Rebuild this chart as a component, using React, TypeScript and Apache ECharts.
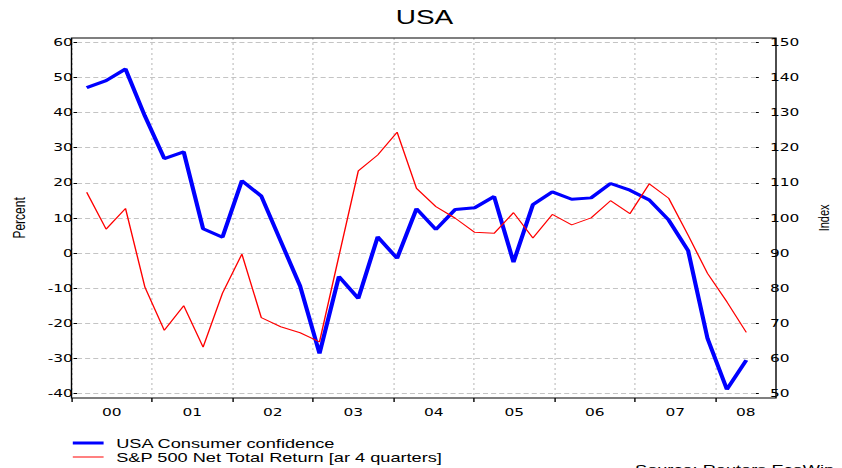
import React, { useEffect, useRef } from 'react';
import * as echarts from 'echarts';

// Quarterly observations, 2000Q1 .. 2008Q3
const quarters = [
  '2000Q1', '2000Q2', '2000Q3', '2000Q4',
  '2001Q1', '2001Q2', '2001Q3', '2001Q4',
  '2002Q1', '2002Q2', '2002Q3', '2002Q4',
  '2003Q1', '2003Q2', '2003Q3', '2003Q4',
  '2004Q1', '2004Q2', '2004Q3', '2004Q4',
  '2005Q1', '2005Q2', '2005Q3', '2005Q4',
  '2006Q1', '2006Q2', '2006Q3', '2006Q4',
  '2007Q1', '2007Q2', '2007Q3', '2007Q4',
  '2008Q1', '2008Q2', '2008Q3',
];
const yearLabels = ['00', '01', '02', '03', '04', '05', '06', '07', '08'];

// USA Consumer confidence (Index, right axis)
const consumerConfidence = [
  137.1, 139.1, 142.4, 129.0,
  116.9, 118.8, 96.9, 94.5,
  110.6, 106.2, 93.4, 80.6,
  61.4, 83.3, 77.1, 94.6,
  88.5, 102.6, 96.7, 102.4,
  102.9, 106.1, 87.4, 103.8,
  107.4, 105.3, 105.7, 109.8,
  107.9, 105.1, 99.4, 90.7,
  65.7, 51.2, 59.5,
];

// S&P 500 Net Total Return, ar 4 quarters (Percent, left axis)
const spReturn = [
  17.3, 6.8, 12.7, -9.7,
  -22.0, -15.0, -26.8, -11.4,
  -0.3, -18.4, -21.0, -22.7,
  -25.3, -0.9, 23.4, 27.9,
  34.4, 18.4, 13.2, 9.9,
  5.9, 5.6, 11.5, 4.3,
  11.0, 8.0, 10.0, 14.9,
  11.2, 19.7, 15.6, 5.1,
  -5.8, -13.9, -22.6,
];

const seriesNames = ['USA Consumer confidence', 'S&P 500 Net Total Return [ar 4 quarters]'];

const SX = 1.4; // horizontal stretch of the reference picture
const W = 602;
const H = 468;

export default function App() {
  const ref = useRef<HTMLDivElement>(null);

  useEffect(() => {
    if (!ref.current) return;
    const chart = echarts.init(ref.current, undefined, { renderer: 'svg' });
    const N = quarters.length;
    const yearStarts = yearLabels.map((_, i) => i * 4);
    const yearCenters = yearStarts.map((s) => (s + Math.min(s + 4, N)) / 2);

    const gridLeft = 71.5 / SX;
    const gridRightEdge = 776 / SX;
    const gridRight = W - gridRightEdge;

    const tickFont = { fontFamily: 'DejaVu Sans', fontSize: 11, color: '#000' };
    const lineFont = 'Liberation Sans';

    const option: any = {
      animation: false,
      title: {
        text: 'USA',
        left: 424.5 / SX,
        top: 7,
        textAlign: 'center',
        padding: 0,
        textStyle: { fontFamily: lineFont, fontSize: 20, fontWeight: 'normal', color: '#000' },
      },
      legend: {
        orient: 'vertical',
        left: 52,
        top: 436,
        padding: 0,
        itemGap: 0,
        itemWidth: 22,
        itemHeight: 3,
        data: [
          {
            name: seriesNames[0],
            icon: 'rect',
            itemStyle: { color: '#0000ff' },
          },
          {
            name: seriesNames[1],
            icon: 'path://M0,0H22V0.02H0Z M0,0.6H22V2.4H0Z M0,2.98H22V3H0Z',
            itemStyle: { color: '#ff8080' },
          },
        ],
        textStyle: {
          fontFamily: lineFont,
          fontSize: 13,
          lineHeight: 14,
          color: '#000',
          padding: [0, 0, 0, 4],
        },
      },
      grid: [
        { left: gridLeft, right: gridRight, top: 42.3, bottom: H - 393.5 },
        { left: gridLeft, right: gridRight, top: 38, bottom: H - 398 },
      ],
      xAxis: [
        { gridIndex: 0, type: 'value', min: 0, max: N, show: false },
        {
          gridIndex: 1,
          type: 'value',
          min: 0,
          max: N,
          interval: 4,
          axisLine: { show: false },
          axisTick: {
            show: true,
            length: 4,
            customValues: yearStarts,
            lineStyle: { color: '#000', width: 1 },
          },
          axisLabel: {
            show: true,
            customValues: yearCenters,
            margin: 9,
            ...tickFont,
            formatter: (v: number) => yearLabels[Math.floor(v / 4)] ?? '',
          },
          splitLine: { show: true, lineStyle: { color: '#c4c4c4', type: [2, 3], width: 0.9 } },
        },
      ],
      yAxis: [
        {
          gridIndex: 0,
          type: 'value',
          position: 'left',
          min: -40,
          max: 60,
          interval: 10,
          name: 'Percent',
          nameLocation: 'middle',
          nameGap: 35,
          nameTextStyle: { fontFamily: lineFont, fontSize: 12, color: '#000' },
          axisLine: { show: false },
          axisTick: { show: true, length: 2.5, lineStyle: { color: '#000' } },
          axisLabel: { margin: 3, ...tickFont },
          splitLine: { show: true, lineStyle: { color: '#c4c4c4', type: [3.6, 2.2], width: 1 } },
        },
        {
          gridIndex: 0,
          type: 'value',
          position: 'right',
          min: 50,
          max: 150,
          interval: 10,
          name: 'Index',
          nameLocation: 'middle',
          nameGap: 43,
          nameTextStyle: { fontFamily: lineFont, fontSize: 11, color: '#000' },
          axisLine: { show: false },
          axisTick: { show: true, length: 2, lineStyle: { color: '#000' } },
          axisLabel: { margin: 10, ...tickFont },
          splitLine: { show: false },
        },
        { gridIndex: 1, type: 'value', min: 0, max: 1, show: false },
      ],
      graphic: [
        {
          type: 'rect',
          silent: true,
          z: 100,
          shape: { x: gridLeft, y: 38, width: gridRightEdge - gridLeft, height: 360 },
          style: { fill: 'none', stroke: '#000', lineWidth: 1 },
        },
        {
          type: 'text',
          left: 635 / SX,
          top: 463,
          silent: true,
          style: { text: 'Source: Reuters EcoWin', fontFamily: lineFont, fontSize: 13, fill: '#000' },
        },
      ],
      series: [
        {
          name: seriesNames[0],
          type: 'line',
          xAxisIndex: 0,
          yAxisIndex: 1,
          symbol: 'none',
          lineStyle: { color: '#0000ff', width: 3 },
          itemStyle: { color: '#0000ff' },
          data: consumerConfidence.map((v, i) => [i + 0.5, v]),
        },
        {
          name: seriesNames[1],
          type: 'line',
          xAxisIndex: 0,
          yAxisIndex: 0,
          symbol: 'none',
          lineStyle: { color: '#ff0000', width: 1 },
          itemStyle: { color: '#ff0000' },
          data: spReturn.map((v, i) => [i + 0.5, v]),
        },
      ],
    };
    chart.setOption(option);
    return () => chart.dispose();
  }, []);

  return (
    <div
      ref={ref}
      style={{
        position: 'fixed',
        left: 0,
        top: 0,
        width: W,
        height: H,
        transform: `scaleX(${SX})`,
        transformOrigin: '0 0',
        background: '#fff',
      }}
    />
  );
}
